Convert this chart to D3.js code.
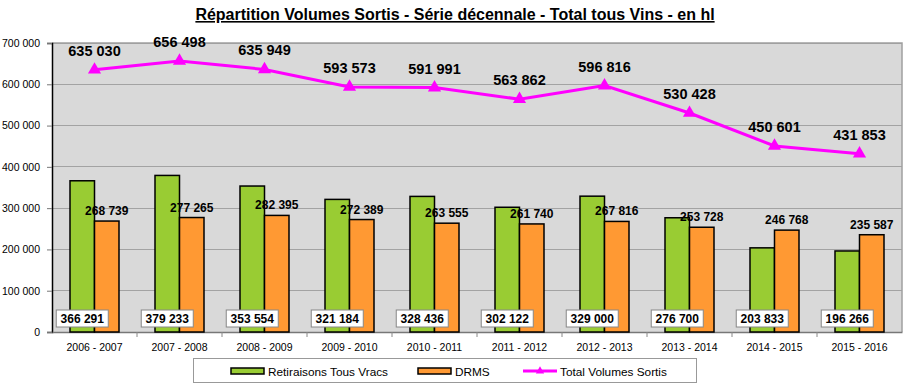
<!DOCTYPE html>
<html>
<head>
<meta charset="utf-8">
<script src="https://cdn.jsdelivr.net/npm/d3@7"></script>
<style>
  body { margin: 0; background: #fff; }
  svg { font-family: "Liberation Sans", Arial, Helvetica, sans-serif; }
</style>
</head>
<body>
<svg id="chart" width="906" height="386"></svg>
<script>
// data
var campaigns = ["2006 - 2007", "2007 - 2008", "2008 - 2009", "2009 - 2010", "2010 - 2011",
                 "2011 - 2012", "2012 - 2013", "2013 - 2014", "2014 - 2015", "2015 - 2016"];
var retiraisons = [366291, 379233, 353554, 321184, 328436, 302122, 329000, 276700, 203833, 196266];
var drms = [268739, 277265, 282395, 272389, 263555, 261740, 267816, 253728, 246768, 235587];
var totalSortis = [635030, 656498, 635949, 593573, 591991, 563862, 596816, 530428, 450601, 431853];
var yTicks = [0, 100000, 200000, 300000, 400000, 500000, 600000, 700000];
var seriesNames = ["Retiraisons Tous Vracs", "DRMS", "Total Volumes Sortis"];

var colors = { green: "#99cc33", orange: "#ff9933", pink: "#ff00ff" };

var svg = d3.select("#chart");
var plotLeft = 52, plotRight = 902, plotTop = 43, plotBottom = 332;

var fmt = d3.formatLocale({ decimal: ",", thousands: " ", grouping: [3], currency: ["", ""] }).format(",d");

var x = d3.scaleBand().domain(campaigns).range([plotLeft, plotRight]);
var xs = d3.scaleBand().domain([0, 1]).range([0, 49]);
var y = d3.scaleLinear().domain([0, 700000]).range([plotBottom, plotTop]);

var offset = function (d, i) { return x(campaigns[i]) + (x.bandwidth() - 49) / 2; };
var cx = function (d, i) { return x(campaigns[i]) + x.bandwidth() / 2; };

// title
svg.append("text")
  .attr("x", 455).attr("y", 20)
  .attr("text-anchor", "middle")
  .attr("font-size", "16px").attr("font-weight", "bold")
  .attr("text-decoration", "underline")
  .text("Répartition Volumes Sortis - Série décennale - Total tous Vins - en hl");

// plot background
svg.append("rect")
  .attr("x", plotLeft).attr("y", plotTop)
  .attr("width", plotRight - plotLeft).attr("height", plotBottom - plotTop)
  .attr("fill", "#d9d9d9");

// grid
svg.selectAll("line.horizontal-grid")
  .data(yTicks.slice(1))
  .enter().append("line")
  .attr("class", "horizontal-grid")
  .attr("x1", plotLeft).attr("x2", plotRight)
  .attr("y1", y).attr("y2", y)
  .attr("stroke", "#a3a3a3").attr("stroke-width", 1)
  .attr("shape-rendering", "crispEdges");

// plot border top/right
svg.append("path")
  .attr("d", "M" + plotLeft + "," + plotTop + "H" + plotRight + "V" + plotBottom)
  .attr("fill", "none").attr("stroke", "#a0a0a0").attr("stroke-width", 1.5);

// y axis
var yAxis = svg.append("g")
  .attr("transform", "translate(" + plotLeft + ",0)")
  .call(d3.axisLeft(y).tickValues(yTicks).tickFormat(fmt).tickSize(5).tickPadding(7));
yAxis.select(".domain").attr("stroke", "#000").attr("stroke-width", 1.5);
yAxis.selectAll(".tick line").attr("stroke", "#777");
yAxis.selectAll("text").attr("font-size", "10.5px").attr("font-family", null).attr("fill", "#000");

// x axis
var xAxis = svg.append("g")
  .attr("transform", "translate(0," + plotBottom + ")")
  .call(d3.axisBottom(x).tickSize(0).tickPadding(12));
xAxis.select(".domain").attr("stroke", "#777").attr("stroke-width", 1.5);
xAxis.selectAll("text").attr("font-size", "10.5px").attr("font-family", null).attr("fill", "#000");
xAxis.selectAll("line.sep")
  .data(campaigns.slice(1))
  .enter().append("line")
  .attr("class", "sep")
  .attr("x1", function (d) { return x(d); })
  .attr("x2", function (d) { return x(d); })
  .attr("y1", 0).attr("y2", 5)
  .attr("stroke", "#888");

// bars
svg.selectAll("rect.bar-green")
  .data(retiraisons)
  .enter().append("rect")
  .attr("class", "bar-green")
  .attr("x", function (d, i) { return offset(d, i) + xs(0); })
  .attr("y", y)
  .attr("width", xs.bandwidth())
  .attr("height", function (d) { return plotBottom - y(d); })
  .attr("fill", colors.green).attr("stroke", "#000").attr("stroke-width", 1.5);

svg.selectAll("rect.bar-orange")
  .data(drms)
  .enter().append("rect")
  .attr("class", "bar-orange")
  .attr("x", function (d, i) { return offset(d, i) + xs(1); })
  .attr("y", y)
  .attr("width", xs.bandwidth())
  .attr("height", function (d) { return plotBottom - y(d); })
  .attr("fill", colors.orange).attr("stroke", "#000").attr("stroke-width", 1.5);

// orange labels
svg.selectAll("text.lab-orange")
  .data(drms)
  .enter().append("text")
  .attr("class", "lab-orange")
  .attr("x", function (d, i) { return offset(d, i) + xs(1) + xs.bandwidth() / 2; })
  .attr("y", function (d) { return y(d) - 6; })
  .attr("text-anchor", "middle")
  .attr("font-size", "12px").attr("font-weight", "bold")
  .text(fmt);

// green labels in white boxes
var gLab = svg.selectAll("g.lab-green")
  .data(retiraisons)
  .enter().append("g")
  .attr("class", "lab-green")
  .attr("transform", function (d, i) {
    return "translate(" + (offset(d, i) + xs(0) + xs.bandwidth() / 2) + ",318.5)";
  });
gLab.append("rect")
  .attr("x", -26).attr("y", -8.5).attr("width", 52).attr("height", 17)
  .attr("fill", "#fff").attr("stroke", "#888").attr("stroke-width", 1);
gLab.append("text")
  .attr("y", 4.5)
  .attr("text-anchor", "middle")
  .attr("font-size", "12px").attr("font-weight", "bold")
  .text(fmt);

// total line
var line = d3.line()
  .x(cx)
  .y(function (d) { return y(d); });
svg.append("path")
  .datum(totalSortis)
  .attr("d", line)
  .attr("fill", "none").attr("stroke", colors.pink).attr("stroke-width", 3);

var tri = d3.symbol().type(d3.symbolTriangle).size(75);
svg.selectAll("path.marker")
  .data(totalSortis)
  .enter().append("path")
  .attr("class", "marker")
  .attr("transform", function (d, i) { return "translate(" + cx(d, i) + "," + y(d) + ")"; })
  .attr("d", tri)
  .attr("fill", colors.pink);

svg.selectAll("text.lab-total")
  .data(totalSortis)
  .enter().append("text")
  .attr("class", "lab-total")
  .attr("x", cx)
  .attr("y", function (d) { return y(d) - 14; })
  .attr("text-anchor", "middle")
  .attr("font-size", "14.5px").attr("font-weight", "bold")
  .text(fmt);

// legend
var legend = svg.append("g");
legend.append("rect")
  .attr("x", 193.5).attr("y", 358.5).attr("width", 503).attr("height", 24)
  .attr("fill", "#fff").attr("stroke", "#999").attr("stroke-width", 1);

var legItems = [
  { name: seriesNames[0], x: 231, color: colors.green, type: "bar" },
  { name: seriesNames[1], x: 418, color: colors.orange, type: "bar" },
  { name: seriesNames[2], x: 523, color: colors.pink, type: "line" }
];
legItems.forEach(function (it) {
  if (it.type === "bar") {
    legend.append("rect")
      .attr("x", it.x).attr("y", 368).attr("width", 33).attr("height", 6)
      .attr("fill", it.color).attr("stroke", "#000").attr("stroke-width", 1.5);
  } else {
    legend.append("line")
      .attr("x1", it.x).attr("x2", it.x + 34).attr("y1", 371).attr("y2", 371)
      .attr("stroke", it.color).attr("stroke-width", 3);
    legend.append("path")
      .attr("transform", "translate(" + (it.x + 17) + ",371)")
      .attr("d", d3.symbol().type(d3.symbolTriangle).size(30))
      .attr("fill", it.color);
  }
  legend.append("text")
    .attr("x", it.x + 37).attr("y", 375.5)
    .attr("font-size", "11.8px")
    .text(it.name);
});
</script>
</body>
</html>
